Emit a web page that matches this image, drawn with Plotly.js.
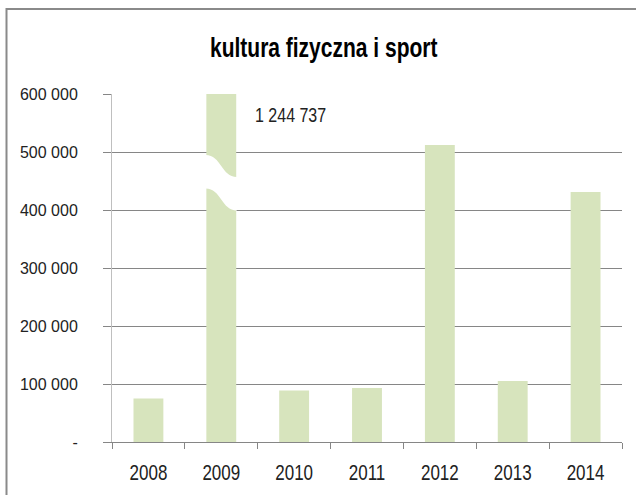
<!DOCTYPE html>
<html>
<head>
<meta charset="utf-8">
<script src="https://cdn.plot.ly/plotly-3.0.1.min.js"></script>
<style>
  html, body { margin: 0; padding: 0; background: #ffffff; }
  #chart { width: 636px; height: 495px; }
</style>
</head>
<body>
<div id="chart"></div>
<script>
// ---- data ----
var years = ['2008', '2009', '2010', '2011', '2012', '2013', '2014'];
var values = [75000, 1244737, 89000, 93000, 512000, 105000, 431000];
var yTickVals = [0, 100000, 200000, 300000, 400000, 500000, 600000];
var yTickText = ['-', '100 000', '200 000', '300 000', '400 000', '500 000', '600 000'];
var chartTitle = 'kultura fizyczna i sport';
var brokenIndex = 1;                 // the 2009 bar exceeds the axis
var breakTop = [495000, 457000];     // upper edge of break (left, right)
var breakBottom = [437000, 399000];  // lower edge of break (left, right)

var yMax = 600000;
var barGap = 0.59;
var FONT = '"Liberation Sans", Arial, sans-serif';

function fmt(v) {
  return String(v).replace(/\B(?=(\d{3})+(?!\d))/g, ' ');
}

var n = years.length;
var cx = (brokenIndex + 0.5) / n;
var hw = (1 - barGap) / 2 / n;
var xl = cx - hw - 0.0015, xr = cx + hw + 0.0015, xm = cx;
function py(v) { return v / yMax; }
var breakPath = 'M ' + xl + ' ' + py(breakTop[0]) +
  ' C ' + xm + ' ' + py(breakTop[0]) + ' ' + xm + ' ' + py(breakTop[1]) + ' ' + xr + ' ' + py(breakTop[1]) +
  ' L ' + xr + ' ' + py(breakBottom[1]) +
  ' C ' + xm + ' ' + py(breakBottom[1]) + ' ' + xm + ' ' + py(breakBottom[0]) + ' ' + xl + ' ' + py(breakBottom[0]) +
  ' Z';

var trace = {
  type: 'bar',
  x: years,
  y: values,
  marker: { color: '#d7e4bd', line: { width: 0 } },
  hoverinfo: 'x+y',
  cliponaxis: true
};

var layout = {
  width: 636,
  height: 495,
  margin: { l: 112, r: 14, t: 94, b: 53, autoexpand: false },
  paper_bgcolor: '#ffffff',
  plot_bgcolor: '#ffffff',
  showlegend: false,
  bargap: barGap,
  font: { family: FONT, size: 16, color: '#222222' },
  title: {
    text: chartTitle,
    font: { family: FONT, size: 21, color: '#000000', weight: 'bold' },
    x: 0.509, xref: 'container', xanchor: 'center',
    y: 0.905, yref: 'container', yanchor: 'middle'
  },
  xaxis: {
    type: 'category',
    range: [-0.5, n - 0.5],
    autorange: false,
    showgrid: false,
    showline: true,
    linecolor: '#868686',
    linewidth: 1,
    ticks: 'outside',
    tickson: 'boundaries',
    ticklen: 6,
    tickcolor: '#868686',
    tickangle: 0,
    ticklabelstandoff: 15,
    tickfont: { family: FONT, size: 17, color: '#222222' },
    fixedrange: true
  },
  yaxis: {
    range: [0, yMax],
    autorange: false,
    tickvals: yTickVals,
    ticktext: yTickText,
    showgrid: true,
    gridcolor: '#868686',
    gridwidth: 1,
    zeroline: false,
    showline: true,
    linecolor: '#bfbfbf',
    linewidth: 1,
    ticks: 'outside',
    ticklen: 8,
    tickcolor: '#868686',
    ticklabelstandoff: 22,
    tickfont: { family: FONT, size: 16, color: '#222222' },
    fixedrange: true
  },
  shapes: [
    {
      type: 'path', xref: 'paper', yref: 'paper', layer: 'above',
      path: breakPath,
      fillcolor: '#ffffff', line: { width: 0 }
    },
    {
      type: 'rect', xref: 'paper', yref: 'paper', layer: 'above',
      x0: (6.5 - 112) / 510, x1: 1.2,
      y0: (442 - 9) / 348, y1: -0.3,
      line: { color: '#8a8a8a', width: 2 }, fillcolor: 'rgba(0,0,0,0)'
    }
  ],
  annotations: [
    {
      xref: 'paper', yref: 'paper',
      x: cx + hw + 0.033, y: (442 - 114) / 348,
      xanchor: 'left', yanchor: 'middle',
      text: fmt(values[brokenIndex]),
      showarrow: false,
      font: { family: FONT, size: 16, color: '#222222' }
    }
  ]
};

// Stretch text vertically to mimic the tall, condensed look of the original font
function stretchY(el, s) {
  try {
    var bb = el.getBBox();
    var c = bb.y + bb.height / 2;
    var t = el.getAttribute('transform') || '';
    el.setAttribute('transform', t + ' translate(0,' + c + ') scale(1,' + s + ') translate(0,' + (-c) + ')');
  } catch (e) {}
}

Plotly.newPlot('chart', [trace], layout, { displayModeBar: false, staticPlot: true }).then(function (gd) {
  var root = gd.querySelector('.main-svg') ? gd : document;
  gd.querySelectorAll('.xtick text').forEach(function (el) { stretchY(el, 1.35); });
  gd.querySelectorAll('.annotation-text-g text').forEach(function (el) { stretchY(el, 1.3); });
  gd.querySelectorAll('.gtitle').forEach(function (el) { stretchY(el, 1.3); });
});
</script>
</body>
</html>
